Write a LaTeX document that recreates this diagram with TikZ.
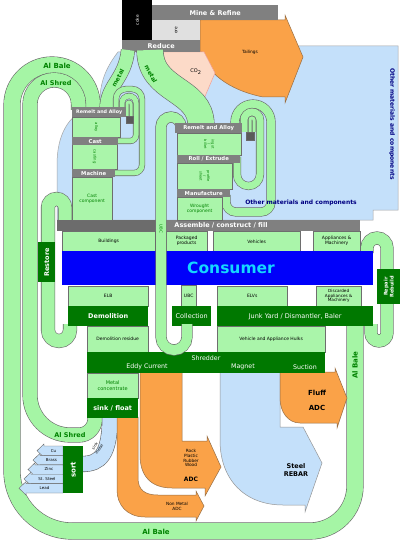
\documentclass[tikz,border=0pt]{standalone}
\usepackage{fontspec}
\setmainfont{DejaVu Sans}
\usetikzlibrary{positioning}

\definecolor{bandgreen}{RGB}{165,245,165}
\definecolor{bandline}{RGB}{105,105,105}
\definecolor{boxgreen}{RGB}{170,245,170}
\definecolor{boxline}{RGB}{110,110,110}
\definecolor{stagegreen}{RGB}{0,120,0}
\definecolor{bargray}{RGB}{128,128,128}
\definecolor{shadegray}{RGB}{108,108,108}
\definecolor{oregray}{RGB}{224,224,224}
\definecolor{skyfill}{RGB}{196,224,250}
\definecolor{orangefill}{RGB}{250,162,72}
\definecolor{orangeline}{RGB}{150,110,70}
\definecolor{pinkfill}{RGB}{252,218,200}
\definecolor{pinkline}{RGB}{240,160,150}
\definecolor{consumerblue}{RGB}{0,0,250}
\definecolor{consumertext}{RGB}{20,215,255}
\definecolor{navytext}{RGB}{0,0,130}
\definecolor{textgreen}{RGB}{0,130,0}

\begin{document}
\begin{tikzpicture}
    [
      x=1pt, y=-1pt,
      band/.style={draw=bandgreen, line width=#1, preaction={draw=bandline, line width=#1+1.2pt}},
      bar/.style={anchor=north west, fill=bargray, text=white, inner sep=0pt, font=\bfseries\fontsize{5.3}{6}\selectfont},
      stage/.style={anchor=north west, fill=stagegreen, text=white, inner sep=0pt, font=\fontsize{6.5}{7}\selectfont},
      prod/.style={anchor=north west, fill=boxgreen, draw=boxline, line width=0.4pt, inner sep=0pt, align=center, font=\fontsize{4.5}{5}\selectfont},
      colbox/.style={prod, text=textgreen},
      bandlbl/.style={inner sep=0pt, text=textgreen, font=\bfseries\fontsize{7}{7}\selectfont},
      tinylbl/.style={inner sep=0pt, align=center, font=\fontsize{4.3}{4.8}\selectfont},
      flowshape/.style={line width=0.5pt},
    ]
    \useasboundingbox (0,0) rectangle (400,545);
    \fill [white] (0,0) rectangle (400,545);

    % other materials region
    \filldraw [fill=skyfill, draw=bandline!60, line width=0.5pt]
      (118,52) -- (200,52) -- (200,46) -- (398,46) -- (398,210) -- (373,210) -- (373,220)
      -- (57,220) -- (57,165) .. controls (57,135) and (68,115) .. (90,107)
      -- (100,100) .. controls (100,80) and (108,65) .. (118,52) -- cycle;

    % mining
    \filldraw [fill=orangefill, draw=orangeline, flowshape]
      (200,20) -- (285,20) -- (285,15) -- (303,57) -- (285,103) -- (285,97) -- (263,97)
      .. controls (228,90) and (206,72) .. (202,52) -- (200,52) -- cycle;
    \filldraw [fill=pinkfill, draw=pinkline, flowshape]
      (163,52) -- (204,52) -- (215,73) -- (203,101) .. controls (182,94) and (166,76) .. (163,52) -- cycle;
    \node (tailings) [tinylbl] at (250,52) {Tailings};
    \node (co2) [tinylbl, font=\fontsize{5}{5}\selectfont] at (196,72) {CO\textsubscript{2}};

    \node (coke) [anchor=north west, fill=black, minimum width=30pt, minimum height=40pt, inner sep=0pt] at (122,0) {};
    \node (ore) [anchor=north west, fill=oregray, minimum width=48pt, minimum height=20pt, inner sep=0pt] at (152,20) {};
    \node (mine) [bar, minimum width=126pt, minimum height=15pt, font=\bfseries\fontsize{6.5}{7}\selectfont] at (152,5) {Mine \& Refine};
    \node (reduce) [bar, minimum width=78pt, minimum height=12pt, font=\bfseries\fontsize{6.5}{7}\selectfont] at (122,40) {Reduce};
    \node [tinylbl, rotate=90, text=white] at (coke.center) {coke};
    \node [tinylbl, rotate=90] at (ore.center) {ore};

    % aluminium scrap loops
    \draw [band=16pt] (355,324) [rounded corners=45pt] -- (355,531) [rounded corners=60pt] -- (12,531)
      [rounded corners=40pt] -- (12,65) -- (92,65) -- (92,110);
    \draw [band=14pt] (95,416) [rounded corners=16pt] -- (95,435) [rounded corners=40pt] -- (30,435)
      [rounded corners=24pt] -- (30,80) -- (78.5,80) -- (78.5,110);
    \draw [band=13pt] (128,50) .. controls (125,80) and (106,85) .. (106.5,110);

    % restore and repair
    \draw [band=13pt] (70,324) [rounded corners=11pt] -- (70,341) -- (48,341)
      [rounded corners=8.5pt] -- (48,199) -- (65,199) -- (65,222);
    \draw [band=12pt] (367,253) [rounded corners=10pt] -- (367,238) -- (387,238)
      [rounded corners=8pt] -- (387,341) -- (371,341) -- (371,324);

    % sink metal
    \draw [band=15pt, draw=skyfill] (110,416) .. controls (110,455) and (100,464) .. (82,464);

    % shredder outputs
    \filldraw [fill=skyfill, draw=bandline!70, flowshape]
      (220,372) -- (280,372) -- (280,427) -- (303,427) -- (322,463) -- (305,512) -- (305,505) -- (283,505)
      .. controls (245,505) and (220,480) .. (220,440) -- cycle;
    \filldraw [fill=orangefill, draw=orangeline, flowshape]
      (280,372) -- (335,372) -- (335,368) -- (347,398) -- (337,428) -- (337,423) -- (300,423)
      .. controls (288,423) and (280,412) .. (280,398) -- cycle;
    \filldraw [fill=orangefill, draw=orangeline, flowshape]
      (140,372) -- (182,372) -- (182,441) -- (207,441) -- (207,436) -- (221,467) -- (205,496) -- (205,488)
      -- (172,488) .. controls (150,488) and (140,475) .. (140,455) -- cycle;
    \filldraw [fill=orangefill, draw=orangeline, flowshape]
      (117,417) -- (138,417) -- (138,478) .. controls (138,490) and (145,495) .. (158,495) -- (196,495)
      -- (196,491) -- (204,506) -- (196,521) -- (196,517) -- (145,517)
      .. controls (127,517) and (117,505) .. (117,490) -- cycle;

    \node (steel) [tinylbl, font=\bfseries\fontsize{6.5}{8}\selectfont] at (296,470) {Steel\\REBAR};
    \node (fluff) [tinylbl, font=\bfseries\fontsize{7}{7}\selectfont] at (317,400) {Fluff\\[8pt]ADC};
    \node (rock) [tinylbl] at (191,458) {Rock\\Plastic\\Rubber\\Wood};
    \node (rockadc) [tinylbl, font=\bfseries\fontsize{6}{6}\selectfont] at (191,479) {ADC};
    \node (nonmetal) [tinylbl] at (177,506) {Non Metal\\ADC};

    % sorted metals
    \foreach \lbl/\yy/\tip [count=\i] in {Cu/446/37, Brass/455.4/33, Zinc/464.8/28, St. Steel/474.2/24, Lead/483.6/19}
    {
      \filldraw [fill=skyfill, draw=bandline, line width=0.4pt]
        (63,\yy) -- (\tip+7,\yy) -- (\tip+7,\yy-2) -- (\tip,\yy+4.7) -- (\tip+7,\yy+11.4) -- (\tip+7,\yy+9.4) -- (63,\yy+9.4) -- cycle;
      \node (out\i) [tinylbl, font=\fontsize{4}{4}\selectfont] at ({(\tip+70)/2},\yy+4.7) {\lbl};
    }

    % products and end of life
    \node (buildings) [prod, minimum width=93pt, minimum height=20pt] at (62,231) {Buildings};
    \node (packaged) [prod, minimum width=41pt, minimum height=20pt] at (166,231) {Packaged\\products};
    \node (vehicles) [prod, minimum width=87pt, minimum height=21pt] at (213,231) {Vehicles};
    \node (appliances) [prod, minimum width=47pt, minimum height=20pt] at (313,231) {Appliances \&\\Machinery};
    \node (elb) [prod, minimum width=80pt, minimum height=20pt] at (68,286) {ELB};
    \node (ubcbox) [prod, minimum width=15pt, minimum height=21pt] at (181,285) {UBC};
    \node (elvs) [prod, minimum width=70pt, minimum height=20pt] at (217,286) {ELVs};
    \node (discarded) [prod, minimum width=45pt, minimum height=20pt, font=\fontsize{4.2}{4.6}\selectfont] at (316,286) {Discarded\\Appliances \&\\Machinery};
    \node (demres) [prod, minimum width=61pt, minimum height=26pt] at (87,326) {Demolition residue};
    \node (hulks) [prod, minimum width=108pt, minimum height=26pt] at (217,326) {Vehicle and Appliance Hulks};
    \node (metalconc) [colbox, minimum width=51pt, minimum height=25pt, font=\fontsize{5}{6}\selectfont] at (87,373) {Metal\\concentrate};

    \node (demolition) [stage, minimum width=80pt, minimum height=20pt, font=\bfseries\fontsize{6.5}{7}\selectfont] at (68,306) {Demolition};
    \node (collection) [stage, minimum width=39pt, minimum height=20pt] at (172,306) {Collection};
    \node (junkyard) [stage, minimum width=156pt, minimum height=20pt] at (217,306) {Junk Yard / Dismantler, Baler};
    \node (shredder) [stage, minimum width=238pt, minimum height=21pt] at (87,352) {};
    \node (sinkfloat) [stage, minimum width=51pt, minimum height=20pt, font=\bfseries\fontsize{6.5}{7}\selectfont] at (87,398) {sink / float};
    \node (restore) [stage, minimum width=17pt, minimum height=40pt] at (38,242) {};
    \node (repair) [stage, minimum width=23pt, minimum height=35pt] at (377,269) {};
    \node (sort) [stage, minimum width=20pt, minimum height=47pt] at (63,446) {};

    \node [inner sep=0pt, text=white, font=\fontsize{6.3}{7}\selectfont] at (206,358) {Shredder};
    \node [inner sep=0pt, text=white, font=\fontsize{6.3}{7}\selectfont] at (147,367) {Eddy Current};
    \node [inner sep=0pt, text=white, font=\fontsize{6.3}{7}\selectfont] at (243,367) {Magnet};
    \node [inner sep=0pt, text=white, font=\fontsize{6.3}{7}\selectfont] at (305,367) {Suction};
    \node [inner sep=0pt, rotate=90, text=white, font=\bfseries\fontsize{6.5}{7}\selectfont] at (restore.center) {Restore};
    \node [inner sep=0pt, rotate=90, align=center, text=white, font=\bfseries\fontsize{5}{6}\selectfont] at (repair.center) {Repair\\Rebuild};
    \node [inner sep=0pt, rotate=90, text=white, font=\bfseries\fontsize{7}{7}\selectfont] at (sort.center) {sort};

    % assemble and consumer
    \node (assembleA) [anchor=north west, fill=shadegray, minimum width=98pt, minimum height=11pt, inner sep=0pt] at (57,220) {};
    \node (assembleB) [bar, minimum width=205pt, minimum height=11pt] at (155,220) {};
    \node [inner sep=0pt, text=white, font=\bfseries\fontsize{6.5}{7}\selectfont] at (221,225.5) {Assemble / construct / fill};
    \node (consumer) [anchor=north west, fill=consumerblue, minimum width=311pt, minimum height=34pt, inner sep=0pt] at (62,251) {};
    \node [inner sep=0pt, text=consumertext, font=\bfseries\fontsize{15.5}{16}\selectfont] at (231,268) {Consumer};

    % cans back to remelt
    \draw [band=10pt] (187,324) [rounded corners=13pt] -- (187,350) -- (161,350)
      [rounded corners=10pt] -- (161,117) -- (181,117) -- (181,128);
    \draw [band=26pt] (150,50) .. controls (150,92) and (201,88) .. (201,125);

    % in-house scrap
    \draw [band=5pt] (112,173) [rounded corners=8pt] -- (142,173) [rounded corners=10pt] -- (142,89) -- (116,89) -- (116,110);
    \draw [band=5pt] (115,141) [rounded corners=6pt] -- (136,141) [rounded corners=7pt] -- (136,96) -- (122,96) -- (122,110);
    \draw [band=3pt] (127,117) [rounded corners=2pt] -- (127,102) -- (131,102) -- (131,117);
    \draw [band=8pt] (226,195) [rounded corners=10pt] -- (226,212) -- (271,212)
      [rounded corners=18pt] -- (271,104) -- (235,104) -- (235,126);
    \draw [band=7pt] (237,157) [rounded corners=11.5pt] -- (237,186) -- (260,186)
      [rounded corners=8pt] -- (260,112) -- (244,112) -- (244,132);
    \draw [band=3pt] (250,132) [rounded corners=2pt] -- (250,118) -- (254,118) -- (254,132);

    % cast column
    \node (alloy) [colbox, minimum width=48pt, minimum height=20pt] at (72,117) {};
    \node (casting) [colbox, minimum width=45pt, minimum height=25pt] at (72,144) {};
    \node (castcomp) [colbox, minimum width=40pt, minimum height=43pt] at (72,177) {Cast\\component};
    \node (remeltA) [bar, minimum width=54pt, minimum height=10pt, font=\bfseries\fontsize{4.8}{5}\selectfont] at (72,107) {Remelt and Alloy};
    \node (castbar) [bar, minimum width=46pt, minimum height=8pt] at (72,137) {Cast};
    \node (machine) [bar, minimum width=43pt, minimum height=8pt] at (72,169) {Machine};
    \node (drossA) [anchor=north west, fill=bargray!70!black, draw=bandline, line width=0.3pt, minimum size=7pt, inner sep=0pt] at (126,116) {};
    \node [tinylbl, rotate=-90, text=textgreen, font=\fontsize{3.8}{4}\selectfont] at (alloy.center) {alloy};
    \node [tinylbl, rotate=-90, text=textgreen, font=\fontsize{3.8}{4}\selectfont] at (casting.center) {casting};

    % wrought column
    \node (ingot) [colbox, minimum width=64pt, minimum height=22pt] at (177,133) {};
    \node (profile) [colbox, minimum width=55pt, minimum height=26pt] at (177,163) {};
    \node (wrought) [colbox, minimum width=45pt, minimum height=23pt] at (177,197) {Wrought\\component};
    \node (remeltB) [bar, minimum width=67pt, minimum height=10pt, font=\bfseries\fontsize{5.3}{6}\selectfont] at (175,123) {Remelt and Alloy};
    \node (roll) [bar, minimum width=63pt, minimum height=8pt] at (177,155) {Roll / Extrude};
    \node (manuf) [bar, minimum width=53pt, minimum height=8pt] at (177,189) {Manufacture};
    \node (drossB) [anchor=north west, fill=bargray!70!black, draw=bandline, line width=0.3pt, minimum size=8pt, inner sep=0pt] at (246,132) {};
    \node [tinylbl, rotate=-90, text=textgreen, font=\fontsize{3.6}{3.8}\selectfont] at (ingot.center) {ingot\\/\\billet};
    \node [tinylbl, rotate=-90, text=textgreen, font=\fontsize{3.6}{3.8}\selectfont] at (profile.center) {profile\\/\\sheet};

    % flow labels
    \node (albaleTop) [bandlbl] at (57,66) {Al Bale};
    \node (alshredTop) [bandlbl, font=\bfseries\fontsize{6.5}{7}\selectfont] at (56,83) {Al Shred};
    \node (alshredLow) [bandlbl, font=\bfseries\fontsize{6.5}{7}\selectfont] at (70,435) {Al Shred};
    \node (albaleLow) [bandlbl] at (156,532) {Al Bale};
    \node (albaleRight) [bandlbl, rotate=90] at (355,365) {Al Bale};
    \node (metalA) [bandlbl, rotate=62, font=\bfseries\fontsize{6}{6}\selectfont] at (118,78) {metal};
    \node (metalB) [bandlbl, rotate=-62, font=\bfseries\fontsize{6}{6}\selectfont] at (151,74) {metal};
    \node (ubcband) [tinylbl, rotate=-90, text=textgreen, font=\fontsize{4}{4}\selectfont] at (161,229) {UBC};
    \node (sinkmetal) [tinylbl, rotate=55, font=\fontsize{3.8}{5.2}\selectfont] at (97,448) {sink\\metal};
    \node (othersH) [inner sep=0pt, text=navytext, font=\bfseries\fontsize{6}{6}\selectfont] at (301,203) {Other materials and components};
    \node (othersV) [inner sep=0pt, rotate=-90, text=navytext, font=\bfseries\fontsize{6}{6}\selectfont] at (392,124) {Other materials and components};
  \end{tikzpicture}
\end{document}
